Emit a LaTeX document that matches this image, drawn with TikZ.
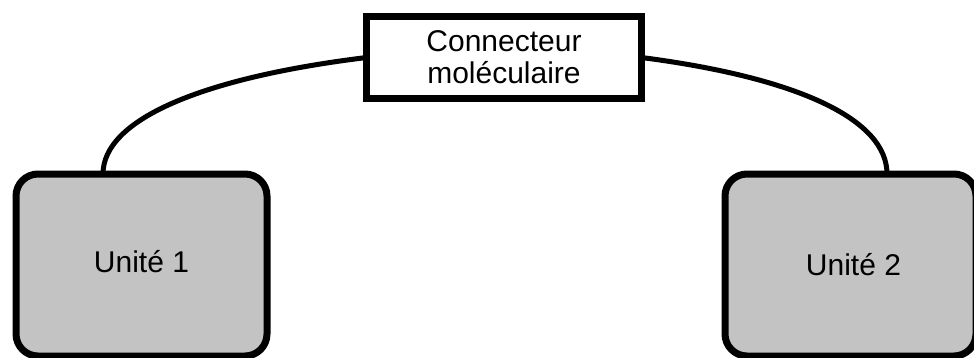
\documentclass[tikz,border=0pt]{standalone}
\usepackage{fontspec}
\setmainfont{Liberation Sans}
\definecolor{unitgray}{RGB}{195,195,195}
\begin{document}
\begin{tikzpicture}[x=1pt,y=-1pt,
  unitbox/.style={draw=black, line width=7pt, fill=unitgray, rounded corners=22pt,
    minimum width=251pt, minimum height=182pt, outer sep=0pt, inner sep=0pt,
    font=\fontsize{30}{33}\selectfont},
  linkbox/.style={draw=black, line width=7pt, fill=white,
    minimum width=275pt, minimum height=82pt, outer sep=0pt, inner sep=0pt,
    align=center, font=\fontsize{30}{32}\selectfont},
  link/.style={draw=black, line width=5pt}]
  \useasboundingbox (0,0) rectangle (974,357);
  % the two units and the linker between them
  \node[unitbox] (u1) at (141.5,265) {\raisebox{7pt}{Unité 1}\hspace{10pt}};
  \node[unitbox] (u2) at (850.5,265) {\hspace{6pt}\raisebox{-2pt}{Unité 2}};
  \node[linkbox] (c) at (504,57.5) {Connecteur\\moléculaire};
  % curved links from the units up to the linker
  \draw[link] ([xshift=87pt]u1.north west) .. controls +(0,-54) and +(-166.5,20.5) .. (c.west);
  \draw[link] ([xshift=162pt]u2.north west) .. controls +(0,-54) and +(158.5,20.5) .. (c.east);
\end{tikzpicture}
\end{document}
